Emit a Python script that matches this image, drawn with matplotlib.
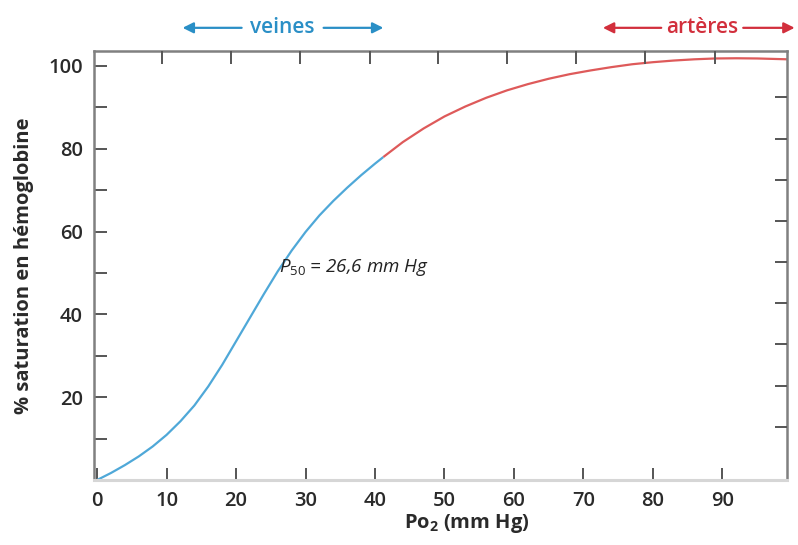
import matplotlib
matplotlib.use("Agg")
import matplotlib.pyplot as plt

# courbe de dissociation de l'hémoglobine
po2_veines = [0, 2, 4, 6, 8, 10, 12, 14, 16, 18, 20, 22, 24, 26, 28, 30, 32, 34, 36, 38, 40, 41.2]
sat_veines = [0, 1.7, 3.6, 5.7, 8.1, 10.9, 14.2, 18.0, 22.6, 27.8, 33.5, 39.2, 44.9, 50.4,
              55.4, 59.9, 63.9, 67.4, 70.6, 73.6, 76.4, 78.0]
po2_arteres = [41.2, 44, 47, 50, 53, 56, 59, 62, 65, 68, 71, 74, 77, 80, 83, 86, 89, 92, 95, 99.3]
sat_arteres = [78.0, 81.6, 84.9, 87.8, 90.2, 92.3, 94.1, 95.6, 96.9, 98.0, 98.9, 99.7,
               100.4, 100.9, 101.3, 101.6, 101.8, 101.85, 101.8, 101.6]

x_ticks = [0, 10, 20, 30, 40, 50, 60, 70, 80, 90]
y_ticks = [10, 20, 30, 40, 50, 60, 70, 80, 90, 100]
y_labels = ["", "20", "", "40", "", "60", "", "80", "", "100"]
top_ticks = [9.3, 19.3, 29.2, 39.3, 49.1, 59.0, 68.9, 78.8, 88.9]
right_ticks = [12.8, 22.8, 32.8, 42.7, 52.6, 62.5, 72.5, 82.4, 92.4]

BLUE = "#4fa8d8"
RED = "#de5a5a"
BLUE_TXT = "#2a8fc6"
RED_TXT = "#d22f3c"

plt.rcParams["font.family"] = ["Open Sans", "DejaVu Sans"]
plt.rcParams["mathtext.fontset"] = "custom"
plt.rcParams["mathtext.rm"] = "Open Sans"
plt.rcParams["mathtext.it"] = "Open Sans:italic"
plt.rcParams["mathtext.bf"] = "Open Sans:bold"

fig = plt.figure(figsize=(7.98, 5.45), dpi=100)
ax = fig.add_axes([0.1178, 0.1193, 0.8684, 0.7871])

ax.plot(po2_veines, sat_veines, color=BLUE, lw=1.6, solid_capstyle="butt")
ax.plot(po2_arteres, sat_arteres, color=RED, lw=1.6, solid_capstyle="butt")

xlim = (-0.45, 99.3)
ylim = (0, 103.6)
ax.set_xlim(*xlim)
ax.set_ylim(*ylim)

ax.set_xticks(x_ticks)
ax.set_xticklabels([str(v) for v in x_ticks])
ax.set_yticks(y_ticks)
ax.set_yticklabels(y_labels)
ax.tick_params(axis="both", direction="in", length=9, width=1.4, color="#555555",
               labelsize=14.5, labelcolor="#2a2a2a", pad=8)
ax.xaxis.get_major_ticks()[0].tick1line.set_visible(False)
ax.yaxis.get_major_ticks()[-1].tick1line.set_visible(False)
for lab in ax.get_xticklabels() + ax.get_yticklabels():
    lab.set_fontweight("semibold")

for side in ["left", "top", "right"]:
    ax.spines[side].set_color("#808080")
    ax.spines[side].set_linewidth(1.8)
ax.spines["bottom"].set_color("#d6d6d6")
ax.spines["bottom"].set_linewidth(2.2)

# graduations décalées en haut et à droite
ax_r = ax.twinx()
ax_r.set_ylim(*ylim)
ax_r.set_yticks(right_ticks)
ax_r.set_yticklabels([])
ax_r.tick_params(axis="y", direction="in", length=9, width=1.4, color="#555555")
ax_t = ax.twiny()
ax_t.set_xlim(*xlim)
ax_t.set_xticks(top_ticks)
ax_t.set_xticklabels([])
ax_t.tick_params(axis="x", direction="in", length=9, width=1.4, color="#555555")
for a in (ax_r, ax_t):
    for s in a.spines.values():
        s.set_visible(False)

ax.set_xlabel(r"Po$_\mathbf{2}$ (mm Hg)", fontsize=14.5, fontweight="bold",
              color="#2a2a2a")
ax.xaxis.set_label_coords(0.538, -0.075)
ax.set_ylabel("% saturation en hémoglobine", fontsize=14.5, fontweight="bold",
              color="#2a2a2a", labelpad=10)

ax.text(37.0, 51.3, r"$P_{\mathit{50}}$ = 26,6 mm Hg", fontsize=13.5, style="italic",
        color="#222222", ha="center", va="center")

# flèches veines / artères
arrow_y = 109.2
arrow_kw = dict(arrowstyle="-|>", lw=1.6, mutation_scale=16)
ax.annotate("", xy=(11.9, arrow_y), xytext=(21.2, arrow_y),
            arrowprops=dict(color=BLUE_TXT, **arrow_kw), annotation_clip=False)
ax.annotate("", xy=(41.6, arrow_y), xytext=(32.2, arrow_y),
            arrowprops=dict(color=BLUE_TXT, **arrow_kw), annotation_clip=False)
ax.text(26.6, arrow_y, "veines", fontsize=15, fontweight="semibold", color=BLUE_TXT,
        ha="center", va="center", clip_on=False)

ax.annotate("", xy=(72.4, arrow_y), xytext=(81.6, arrow_y),
            arrowprops=dict(color=RED_TXT, **arrow_kw), annotation_clip=False)
ax.annotate("", xy=(100.8, arrow_y), xytext=(92.6, arrow_y),
            arrowprops=dict(color=RED_TXT, **arrow_kw), annotation_clip=False)
ax.text(87.1, arrow_y, "artères", fontsize=15, fontweight="semibold", color=RED_TXT,
        ha="center", va="center", clip_on=False)

fig.savefig("out.png", dpi=100)
